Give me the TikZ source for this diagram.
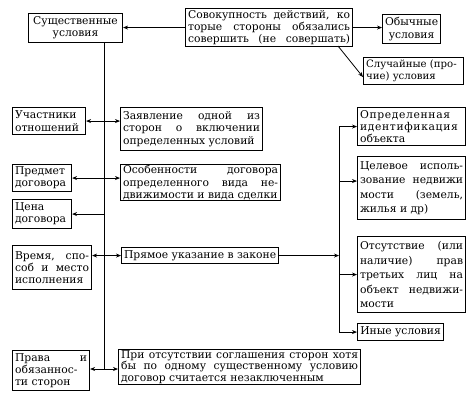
\documentclass[tikz,border=0pt]{standalone}
\usepackage{fontspec}
\setmainfont{DejaVu Serif}
\usetikzlibrary{arrows.meta}
\newcommand\curw{10bp}
\newcommand\jline[1]{\hbox to\curw{#1}}
\newcommand\lline[1]{\hbox to\curw{#1\hfil}}
\newcommand\sline[1]{\hbox to\curw{{\addfontfeature{LetterSpace=6}#1}\hfil}}
\newcommand\jbox[7][]{%
  \pgfmathsetmacro\bw{#5-#3}\pgfmathsetmacro\bh{#6-#4}\pgfmathsetmacro\tw{#5-#3-5}%
  \edef\curw{\tw bp}%
  \node[box,minimum width=\bw bp,minimum height=\bh bp,#1] (#2) at (#3,#4) {\vbox{#7}};}
\newcommand\cbox[7][]{%
  \pgfmathsetmacro\bw{#5-#3}\pgfmathsetmacro\bh{#6-#4}%
  \node[box,align=center,minimum width=\bw bp,minimum height=\bh bp,#1] (#2) at (#3,#4) {#7};}
\begin{document}
\begin{tikzpicture}[x=1bp,y=-1bp,
  box/.style={draw,line width=1.1pt,inner xsep=2.5bp,inner ysep=1bp,anchor=north west,
    font=\fontsize{10.8}{12.3}\selectfont},
  conn/.style={line width=0.8pt},
  tip/.style={conn,-{Stealth[length=5bp,width=4bp]}},
  dtip/.style={conn,{Stealth[length=5bp,width=4bp]}-{Stealth[length=5bp,width=4bp]}}]
\path[use as bounding box] (0,0) rectangle (473,405);
% top row
\cbox{sush}{28}{13}{122}{42}{Существенные\\условия}
\jbox{sov}{185}{8}{352}{46}{\jline{Совокупность действий, ко}\jline{торые стороны обязались}\jline{совершить (не совершать)}}
\cbox{obych}{382}{14}{435}{43}{Обычные\\условия}
\jbox[font=\fontsize{10.2}{12.3}\selectfont]{sluch}{363}{57}{463}{84}{\lline{Случайные (про-}\lline{чие) условия}}
% left column
\jbox{uch}{12}{107}{85}{134}{\lline{Участники}\lline{отношений}}
\jbox{pred}{12}{164}{71}{191}{\lline{Предмет}\lline{договора}}
\jbox{cena}{12}{199}{71}{228}{\lline{Цена}\lline{договора}}
\jbox{vrem}{12}{245}{91}{289}{\jline{Время, спо-}\jline{соб и место}\lline{исполнения}}
\jbox{prava}{12}{350}{89}{390}{\jline{Права и}\lline{обязаннос-}\lline{ти сторон}}
% middle column
\jbox{zay}{120}{107}{262}{150}{\jline{Заявление одной из}\jline{сторон о включении}\lline{определенных условий}}
\jbox{osob}{120}{164}{280}{200}{\jline{Особенности договора}\jline{определенного вида не-}\lline{движимости и вида сделки}}
\cbox{pryam}{121}{247}{277}{263}{Прямое указание в законе}
\jbox[font=\fontsize{10.8}{11.5}\selectfont]{prio}{118}{349}{360}{382}{\jline{При отсутствии соглашения сторон хотя}\jline{бы по одному существенному условию}\lline{договор считается незаключенным}}
% right column
\jbox{opr}{357}{107}{465}{145}{\sline{Определенная}\sline{идентификация}\lline{объекта}}
\jbox[font=\fontsize{10.8}{14.5}\selectfont]{tsel}{357}{156}{465}{219}{\jline{Целевое исполь-}\jline{зование недвижи}\jline{мости (земель,}\lline{жилья и др)}}
\jbox[font=\fontsize{10.8}{14.5}\selectfont]{ots}{357}{236}{465}{312}{\jline{Отсутствие (или}\jline{наличие) прав}\jline{третьих лиц на}\jline{объект недвижи-}\lline{мости}}
\cbox{inye}{357}{323}{443}{340}{Иные условия}
% coordinates of the spines
\coordinate (vtop) at (104,42);
\coordinate (vbot) at (104,369);
\coordinate (rtop) at (339,126);
\coordinate (sovout) at (338,46);
\coordinate (tselin) at ([yshift=7bp]tsel.west);
% connectors
\draw[tip] (sov.west) -- (sov.west -| sush.east);
\draw[tip] (sov.east) -- (sov.east -| obych.west);
\draw[tip] (sovout) -- ([yshift=-6bp]sluch.west);
\draw[conn] (vtop) -- (vbot);
\draw[dtip] (uch.east) -- (uch.east -| zay.west);
\draw[dtip] (pred.east) -- (pred.east -| osob.west);
\draw[tip] (cena.east -| vtop) -- (cena.east);
\draw[dtip] (pryam.west -| vrem.east) -- (pryam.west);
\draw[dtip] (prava.east |- vbot) -- (prio.west |- vbot);
\draw[tip] (pryam.east) -- (pryam.east -| rtop);
\draw[conn] (opr.west -| rtop) -- (inye.west -| rtop);
\draw[tip] (opr.west -| rtop) -- (opr.west);
\draw[tip] (tselin -| rtop) -- (tselin);
\draw[tip] (ots.west -| rtop) -- (ots.west);
\draw[tip] (inye.west -| rtop) -- (inye.west);
\end{tikzpicture}
\end{document}
